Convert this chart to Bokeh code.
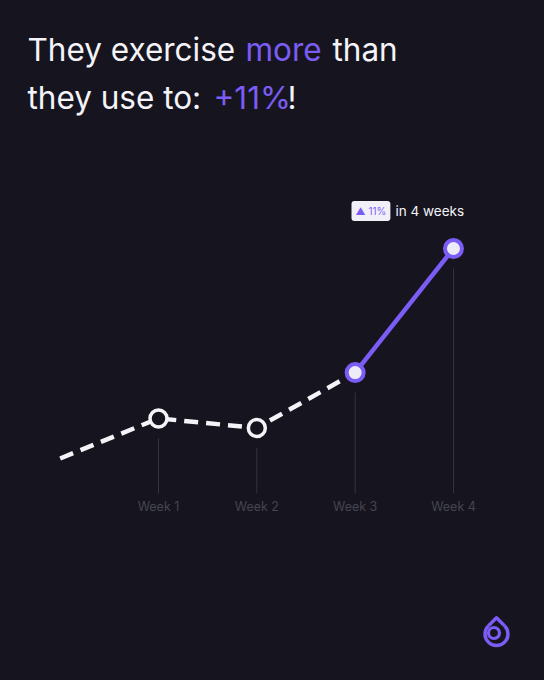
import numpy as np
from bokeh.plotting import figure
from bokeh.models import Range1d, Label
from bokeh.core.properties import value
from bokeh.embed import file_html
from bokeh.resources import INLINE

# ---- data ----
weeks = [0, 1, 2, 3, 4]
week_labels = ["", "Week 1", "Week 2", "Week 3", "Week 4"]
values = [100.0, 102.1, 101.6, 104.5, 111.0]
change_label = "11%"
period_label = "in 4 weeks"

BG = "#16151f"
PURPLE = "#7b5cf5"
WHITE = "#f4f3f8"
GRID = "#34333f"
TICK = "#45444f"
FONT = "Inter"

W, H = 528, 664
PX_X = 98.33
PX_Y = 19.09
x0 = -51.67 / PX_X
y_top = values[-1] + 240 / PX_Y
y_bot = y_top - H / PX_Y

p = figure(width=W, height=H, output_backend="svg", toolbar_location=None,
           x_range=Range1d(x0, x0 + W / PX_X), y_range=Range1d(y_bot, y_top),
           min_border=0, background_fill_color=BG, border_fill_color=BG)
p.axis.visible = False
p.grid.visible = False
p.outline_line_color = None

# vertical guide lines
gap = 20 / PX_Y
floor = values[0] - 35 / PX_Y
p.segment(x0=weeks[1:], x1=weeks[1:], y0=[v - gap for v in values[1:]],
          y1=[floor] * 4, line_color=GRID, line_width=1)

# week labels
label_y = values[0] - 48 / PX_Y
p.text(x=weeks[1:], y=[label_y] * 4, text=week_labels[1:], text_color=TICK,
       text_font=value(FONT), text_font_size="12.5px", text_align="center",
       text_baseline="middle")

# lines
p.line(weeks[:4], values[:4], line_color=WHITE, line_width=4.5, line_dash="14 8")
p.line(weeks[3:], values[3:], line_color=PURPLE, line_width=4.5)

# markers
p.scatter(weeks[1:3], values[1:3], size=17, fill_color=BG, line_color=WHITE, line_width=3.5)
p.scatter(weeks[3:], values[3:], size=17, fill_color="#ecebf6", line_color=PURPLE, line_width=4)

# title
def lab(text, x, y, color, size="31.5px"):
    p.add_layout(Label(x=x, y=y, x_units="screen", y_units="screen", text=text,
                       text_color=color, text_font=FONT, text_font_size=size,
                       text_baseline="alphabetic", text_align="left"))

lab("They exercise", 19, 623, WHITE)
lab("more", 237, 623, PURPLE)
lab("than", 324, 623, WHITE)
lab("they use to:", 19, 575, WHITE)
lab("+11%", 205, 575, PURPLE)
lab("!", 279, 575, WHITE)

# annotation badge
p.add_layout(Label(x=343, y=461.5, x_units="screen", y_units="screen",
                   text="\u25B2 " + change_label, text_color=PURPLE, text_font=FONT,
                   text_font_size="10px", text_baseline="middle", text_align="left",
                   background_fill_color="#f1f0f8", border_radius=3, padding=4))
p.add_layout(Label(x=387, y=461.5, x_units="screen", y_units="screen",
                   text=period_label, text_color=WHITE, text_font=FONT,
                   text_font_size="13.5px", text_baseline="middle", text_align="left"))

# logo (decorative)
def to_data(px, py):
    return x0 + (px - 8) / PX_X, y_top - (py - 8) / PX_Y
cx, cy = to_data(496, 633.5)
r = 11.5
p.arc(x=[cx], y=[cy], radius=r, radius_units="screen", start_angle=np.deg2rad(135),
      end_angle=np.deg2rad(45), direction="anticlock", line_color=PURPLE, line_width=3.5)
tipx, tipy = to_data(496, 633.5 - r * np.sqrt(2))
lx, ly = to_data(496 - r / np.sqrt(2), 633.5 - r / np.sqrt(2))
rx, ry = to_data(496 + r / np.sqrt(2), 633.5 - r / np.sqrt(2))
p.line([lx, tipx, rx], [ly, tipy, ry], line_color=PURPLE, line_width=3.5, line_join="round")
ix, iy = to_data(493.5, 632.5)
p.scatter([ix], [iy], size=11, fill_color=None, line_color=PURPLE, line_width=3.2)

html = file_html(p, INLINE)
html = html.replace("<head>", "<head><style>html{background:#16151f;} body{background:#16151f;margin:8px !important;}</style>", 1)
open("out.html", "w").write(html)
